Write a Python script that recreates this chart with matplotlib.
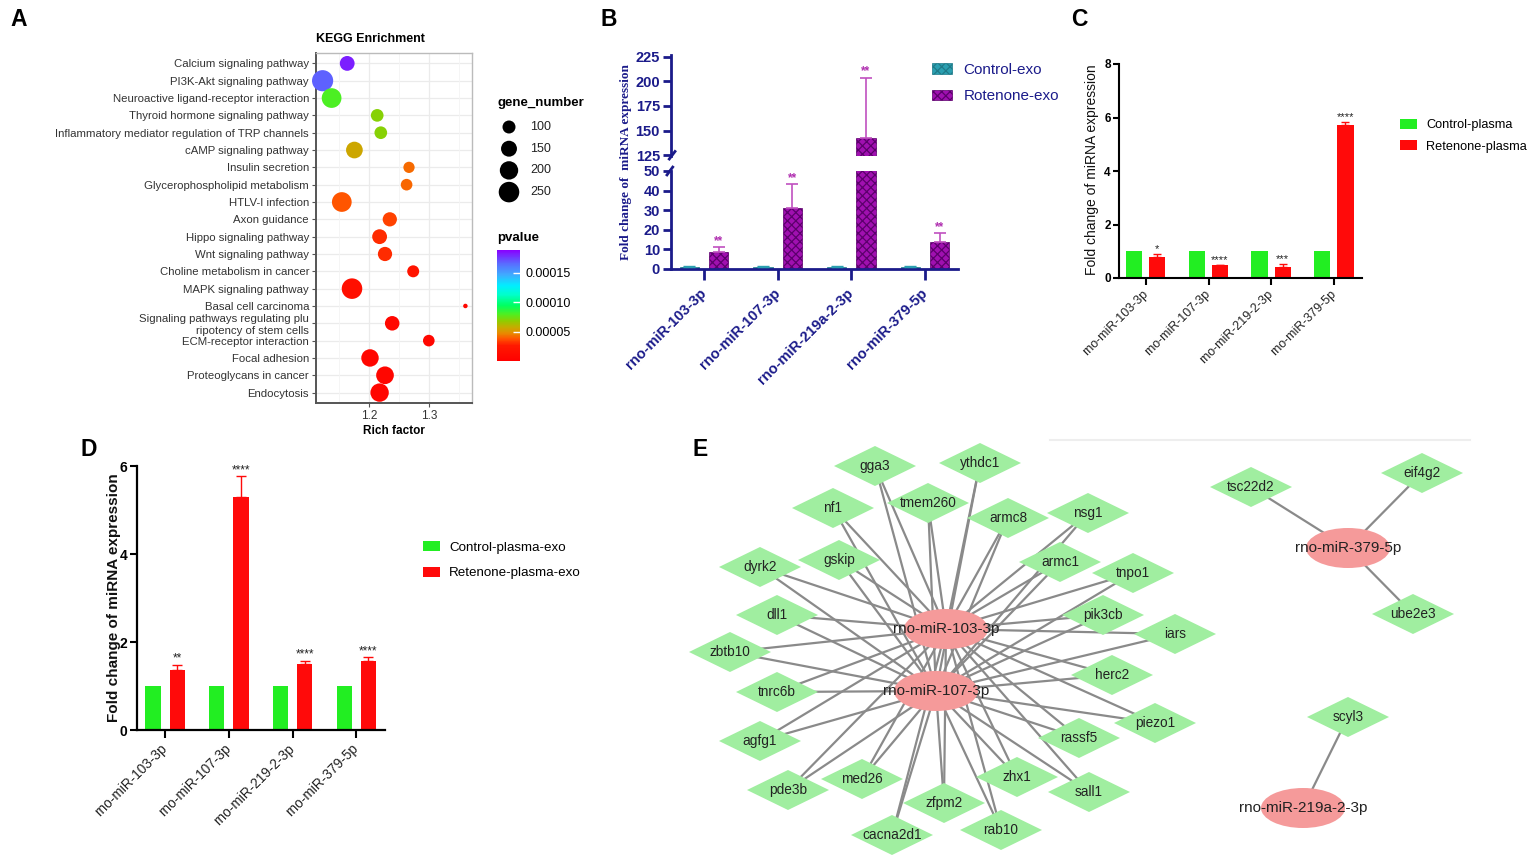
import numpy as np
import matplotlib
matplotlib.use('Agg')
import matplotlib.pyplot as plt
from matplotlib.colors import LinearSegmentedColormap, Normalize
from matplotlib.patches import Ellipse, Polygon, Patch

plt.rcParams['font.family'] = ['Liberation Sans', 'DejaVu Sans']
plt.rcParams['hatch.linewidth'] = 0.9

W, H = 1535, 860
fig = plt.figure(figsize=(W / 100, H / 100), dpi=100)


def px_axes(x0, y0, x1, y1, **kw):
    return fig.add_axes([x0 / W, 1 - y1 / H, (x1 - x0) / W, (y1 - y0) / H], **kw)


# ======================= DATA =======================
# Panel A: KEGG enrichment
kegg_terms = ["Calcium signaling pathway", "PI3K-Akt signaling pathway",
              "Neuroactive ligand-receptor interaction", "Thyroid hormone signaling pathway",
              "Inflammatory mediator regulation of TRP channels", "cAMP signaling pathway",
              "Insulin secretion", "Glycerophospholipid metabolism", "HTLV-I infection",
              "Axon guidance", "Hippo signaling pathway", "Wnt signaling pathway",
              "Choline metabolism in cancer", "MAPK signaling pathway", "Basal cell carcinoma",
              "Signaling pathways regulating plu\nripotency of stem cells",
              "ECM-receptor interaction", "Focal adhesion", "Proteoglycans in cancer",
              "Endocytosis"]
kegg_rich = [1.164, 1.123, 1.138, 1.214, 1.220, 1.176, 1.267, 1.263, 1.155, 1.235,
             1.218, 1.227, 1.274, 1.172, 1.361, 1.239, 1.300, 1.202, 1.227, 1.218]
kegg_genes = [130, 265, 230, 95, 95, 165, 75, 80, 230, 120,
              130, 120, 85, 250, 12, 125, 80, 180, 185, 200]
kegg_pvalue = [1.82e-4, 1.68e-4, 8.0e-5, 7.0e-5, 7.0e-5, 5.6e-5, 4.2e-5, 4.1e-5, 3.8e-5, 3.4e-5,
               3.0e-5, 3.0e-5, 2.0e-5, 1.5e-5, 8e-6, 8e-6, 8e-6, 6e-6, 6e-6, 6e-6]
size_keys = [100, 150, 200, 250]
pvalue_ticks = [5e-5, 1e-4, 1.5e-4]
pvalue_ticklabels = ["0.00005", "0.00010", "0.00015"]

# Panel B
mirs_B = ["rno-miR-103-3p", "rno-miR-107-3p", "rno-miR-219a-2-3p", "rno-miR-379-5p"]
ctrl_exo = [1.0, 1.0, 1.0, 1.0]
ctrl_exo_err = [0.4, 0.5, 0.7, 0.3]
rot_exo = [8.7, 31.0, 142.0, 14.0]
rot_exo_err = [2.3, 12.4, 62.0, 4.3]
stars_B = ["**", "**", "**", "**"]

# Panel C
mirs_C = ["rno-miR-103-3p", "rno-miR-107-3p", "rno-miR-219-2-3p", "rno-miR-379-5p"]
ctrl_plasma = [1.0, 1.0, 1.0, 1.0]
rot_plasma = [0.77, 0.47, 0.42, 5.72]
rot_plasma_err = [0.13, 0.02, 0.09, 0.10]
stars_C = ["*", "****", "***", "****"]

# Panel D
mirs_D = ["rno-miR-103-3p", "rno-miR-107-3p", "rno-miR-219-2-3p", "rno-miR-379-5p"]
ctrl_pexo = [1.0, 1.0, 1.0, 1.0]
rot_pexo = [1.36, 5.30, 1.50, 1.575]
rot_pexo_err = [0.12, 0.47, 0.07, 0.075]
stars_D = ["**", "****", "****", "****"]

# Panel E: network (layout positions in figure pixels)
hub_names = ["rno-miR-103-3p", "rno-miR-107-3p", "rno-miR-379-5p", "rno-miR-219a-2-3p"]
hub_x = [946, 936, 1348, 1303]
hub_y = [629, 691, 548, 808]
target_names = ["gga3", "ythdc1", "nf1", "tmem260", "armc8", "nsg1", "gskip", "dyrk2",
                "armc1", "tnpo1", "dll1", "pik3cb", "iars", "zbtb10", "herc2", "tnrc6b",
                "piezo1", "agfg1", "rassf5", "med26", "zhx1", "pde3b", "sall1", "zfpm2",
                "cacna2d1", "rab10", "tsc22d2", "eif4g2", "ube2e3", "scyl3"]
target_x = [875, 980, 833, 928, 1008, 1088, 839, 760, 1060, 1133, 777, 1103, 1175, 730,
            1112, 777, 1155, 760, 1079, 862, 1017, 788, 1089, 944, 892, 1001,
            1251, 1422, 1413, 1348]
target_y = [466, 463, 508, 503, 518, 513, 560, 567, 562, 573, 615, 615, 634, 652,
            675, 692, 723, 741, 738, 779, 777, 790, 792, 803, 835, 830,
            487, 473, 614, 717]
shared_targets = target_names[:26]
edges = ([(t, "rno-miR-103-3p") for t in shared_targets]
         + [(t, "rno-miR-107-3p") for t in shared_targets]
         + [("tsc22d2", "rno-miR-379-5p"), ("eif4g2", "rno-miR-379-5p"),
            ("ube2e3", "rno-miR-379-5p"), ("scyl3", "rno-miR-219a-2-3p")])

# ======================= PANEL A =======================
cmap = LinearSegmentedColormap.from_list("pv", [
    (0.0, "#ff0000"), (0.14, "#ff1a00"), (0.2, "#ff5500"), (0.25, "#e88a00"),
    (0.3, "#c8aa00"), (0.36, "#90cc00"), (0.42, "#50ee20"), (0.5, "#00ff60"),
    (0.6, "#00ffcc"), (0.68, "#00eeff"), (0.78, "#40aaff"), (0.88, "#5a6aff"),
    (1.0, "#8a00ff")])
norm = Normalize(vmin=0, vmax=1.89e-4)


def gene_size(n):
    return np.asarray(n, dtype=float) * 0.876


axA = px_axes(316, 53, 472, 403)
yA = np.arange(len(kegg_terms))
axA.set_axisbelow(True)
for yy in yA:
    axA.axhline(yy, color="#ebebeb", lw=0.9, zorder=0)
for xx in [1.15, 1.25, 1.35]:
    axA.axvline(xx, color="#f4f4f4", lw=0.6, zorder=0)
for xx in [1.2, 1.3]:
    axA.axvline(xx, color="#ebebeb", lw=0.9, zorder=0)
sc = axA.scatter(kegg_rich, yA, s=gene_size(kegg_genes), c=kegg_pvalue, cmap=cmap,
                 norm=norm, edgecolors="none", zorder=3, clip_on=False)
axA.set_xlim(1.112, 1.372)
axA.set_ylim(len(kegg_terms) - 0.4, -0.6)
axA.set_yticks(yA)
axA.set_yticklabels(kegg_terms, fontsize=8.2, color="#333333")
axA.set_xticks([1.2, 1.3])
axA.set_xticklabels(["1.2", "1.3"], fontsize=8.5, color="#333333")
axA.tick_params(axis="both", length=3, width=0.8, color="#555555", pad=2)
axA.set_xlabel("Rich factor", fontsize=8.5, fontweight="bold", labelpad=2)
axA.set_title("KEGG Enrichment", fontsize=9, fontweight="bold", loc="left", pad=8)
for s in ["left", "bottom"]:
    axA.spines[s].set_color("#555555")
    axA.spines[s].set_linewidth(1.4)
for s in ["top", "right"]:
    axA.spines[s].set_color("#bbbbbb")
    axA.spines[s].set_linewidth(1.0)

# colorbar
caxA = px_axes(497, 250, 520, 361)
cb = fig.colorbar(sc, cax=caxA, ticks=pvalue_ticks)
cb.set_ticklabels(pvalue_ticklabels)
cb.outline.set_visible(False)
caxA.tick_params(direction="in", color="white", length=5, width=1, labelsize=9, pad=4)
fig.text(497 / W, 1 - 238 / H, "pvalue", fontsize=9.5, fontweight="bold", va="center")

# ======================= PANEL B =======================
navy = "#1b1b8a"
xg = np.arange(4)
axB_top = px_axes(671, 55, 958, 156)
axB_bot = px_axes(671, 171, 958, 269)
zeros = np.zeros(4)
for a in (axB_top, axB_bot):
    a.bar(xg - 0.2, ctrl_exo, 0.26, color="#2a9fb0", edgecolor="#1f7a88",
          hatch="xxxx", linewidth=0.5, zorder=2)
    a.bar(xg + 0.2, rot_exo, 0.26, color="#a010b0", edgecolor="#5c006c",
          hatch="xxxx", linewidth=0.5, zorder=2)
    a.errorbar(xg + 0.2, rot_exo, yerr=[zeros, rot_exo_err], fmt="none",
               ecolor="#c050c0", elinewidth=1.2, capsize=4, capthick=1.2, zorder=3)
    a.errorbar(xg - 0.2, ctrl_exo, yerr=[zeros, ctrl_exo_err], fmt="none",
               ecolor="#2a9fb0", elinewidth=1.0, capsize=4, capthick=1.0, zorder=3)
    a.set_xlim(-0.45, 3.45)
    a.spines["top"].set_visible(False)
    a.spines["right"].set_visible(False)
    a.spines["left"].set_color(navy)
    a.spines["left"].set_linewidth(2)
    a.tick_params(axis="y", colors=navy, width=2, length=6, labelsize=10.5, pad=2)
    a.patch.set_alpha(0)

axB_top.set_ylim(124.0, 227.0)
axB_top.set_yticks([125, 150, 175, 200, 225])
axB_top.spines["bottom"].set_visible(False)
axB_top.set_xticks([])
axB_bot.set_ylim(0, 50)
axB_bot.set_yticks([0, 10, 20, 30, 40, 50])
axB_bot.spines["bottom"].set_color(navy)
axB_bot.spines["bottom"].set_linewidth(2)
axB_bot.set_xticks(xg)
axB_bot.set_xticklabels(mirs_B, rotation=45, ha="right", va="center",
                        rotation_mode="anchor", fontsize=10.5, fontweight="bold", color=navy)
axB_bot.tick_params(axis="x", colors=navy, width=2, length=8, pad=8)
for a in (axB_top, axB_bot):
    for lbl in a.get_yticklabels():
        lbl.set_fontweight("bold")
for i in range(4):
    ytxt = rot_exo[i] + rot_exo_err[i]
    a = axB_top if ytxt > 50 else axB_bot
    a.text(xg[i] + 0.2, ytxt, stars_B[i], ha="center", va="bottom",
           color="#b030b0", fontsize=8.5, fontweight="bold")
# axis-break marks
axB_top.plot([-0.006, 0.014], [-0.03, 0.045], transform=axB_top.transAxes,
             color=navy, lw=2, clip_on=False)
axB_bot.plot([-0.014, 0.006], [0.96, 1.04], transform=axB_bot.transAxes,
             color=navy, lw=2, clip_on=False)
fig.text(626 / W, 1 - 162 / H, "Fold change of  miRNA expression", rotation=90,
         ha="center", va="center", family=["Liberation Serif", "DejaVu Serif"],
         fontweight="bold", color=navy, fontsize=9.5)
fig.legend(handles=[Patch(facecolor="#2a9fb0", edgecolor="#1f7a88", hatch="xxxx", lw=0.5),
                    Patch(facecolor="#a010b0", edgecolor="#5c006c", hatch="xxxx", lw=0.5)],
           labels=["Control-exo", "Rotenone-exo"], loc="upper left",
           bbox_to_anchor=(932 / W, 1 - 63 / H), frameon=False, fontsize=11,
           labelcolor=navy, handlelength=1.3, handleheight=0.7, labelspacing=0.8,
           handletextpad=0.75, borderpad=0, borderaxespad=0)

# ======================= PANEL C =======================
axC = px_axes(1119, 64, 1362, 278)
axC.bar(xg - 0.19, ctrl_plasma, 0.26, color="#22ee22", zorder=2)
axC.bar(xg + 0.18, rot_plasma, 0.26, color="#ff0a0a", zorder=2)
axC.errorbar(xg + 0.18, rot_plasma, yerr=[zeros, rot_plasma_err], fmt="none",
             ecolor="#ff0a0a", elinewidth=1.0, capsize=3, capthick=1.0, zorder=3)
for i in range(4):
    axC.text(xg[i] + 0.18, rot_plasma[i] + rot_plasma_err[i], stars_C[i], ha="center",
             va="bottom", fontsize=8, color="#222222")
axC.set_xlim(-0.43, 3.445)
axC.set_ylim(0, 8)
axC.set_yticks([0, 2, 4, 6, 8])
axC.set_xticks(xg)
axC.set_xticklabels(mirs_C, rotation=45, ha="right", va="center", rotation_mode="anchor",
                    fontsize=9, color="#222222")
for lbl in axC.get_yticklabels():
    lbl.set_fontweight("bold")
axC.tick_params(axis="y", labelsize=8.5, width=1.5, length=4, pad=2)
axC.tick_params(axis="x", width=1.5, length=5, pad=5)
for s in ["top", "right"]:
    axC.spines[s].set_visible(False)
for s in ["left", "bottom"]:
    axC.spines[s].set_linewidth(1.5)
fig.text(1092 / W, 1 - 170 / H, "Fold change of miRNA expression", rotation=90,
         ha="center", va="center", fontsize=10, color="#111111")
fig.legend(handles=[Patch(facecolor="#22ee22"), Patch(facecolor="#ff0a0a")],
           labels=["Control-plasma", "Retenone-plasma"], loc="upper left",
           bbox_to_anchor=(1400 / W, 1 - 119 / H), frameon=False, fontsize=9.2,
           handlelength=1.33, handleheight=0.78, labelspacing=0.72,
           handletextpad=0.7, borderpad=0, borderaxespad=0)

# ======================= PANEL D =======================
axD = px_axes(137, 466, 385, 730)
axD.bar(xg - 0.19, ctrl_pexo, 0.24, color="#22ee22", zorder=2)
axD.bar(xg + 0.19, rot_pexo, 0.24, color="#ff0a0a", zorder=2)
axD.errorbar(xg + 0.19, rot_pexo, yerr=[zeros, rot_pexo_err], fmt="none",
             ecolor="#ff0a0a", elinewidth=1.0, capsize=3.5, capthick=1.0, zorder=3)
for i in range(4):
    axD.text(xg[i] + 0.19, rot_pexo[i] + rot_pexo_err[i], stars_D[i], ha="center",
             va="bottom", fontsize=8.5, color="#222222")
axD.set_xlim(-0.44, 3.45)
axD.set_ylim(0, 6)
axD.set_yticks([0, 2, 4, 6])
axD.set_xticks(xg)
axD.set_xticklabels(mirs_D, rotation=45, ha="right", va="center", rotation_mode="anchor",
                    fontsize=9.8, color="#222222")
for lbl in axD.get_yticklabels():
    lbl.set_fontweight("bold")
axD.tick_params(axis="y", labelsize=10, width=1.5, length=5, pad=2)
axD.tick_params(axis="x", width=1.5, length=6, pad=6)
for s in ["top", "right"]:
    axD.spines[s].set_visible(False)
for s in ["left", "bottom"]:
    axD.spines[s].set_linewidth(1.6)
fig.text(114 / W, 1 - 598 / H, "Fold change of miRNA expression", rotation=90,
         ha="center", va="center", fontsize=11, fontweight="bold", color="#111111")
fig.legend(handles=[Patch(facecolor="#22ee22"), Patch(facecolor="#ff0a0a")],
           labels=["Control-plasma-exo", "Retenone-plasma-exo"], loc="upper left",
           bbox_to_anchor=(423 / W, 1 - 541 / H), frameon=False, fontsize=9.6,
           handlelength=1.28, handleheight=0.75, labelspacing=1.0,
           handletextpad=0.68, borderpad=0, borderaxespad=0)

# ======================= OVERLAY (legend A, network E, letters) =======================
ov = fig.add_axes([0, 0, 1, 1], zorder=5)
ov.set_xlim(0, W)
ov.set_ylim(H, 0)
ov.axis("off")
ov.patch.set_alpha(0)

# size legend for panel A
ov.text(497, 103, "gene_number", fontsize=9.5, fontweight="bold", va="center")
for i, g in enumerate(size_keys):
    yy = 127 + i * 21.7
    ov.scatter([509], [yy], s=gene_size([g]), color="black", edgecolors="none")
    ov.text(530, yy, str(g), fontsize=9, va="center", color="#222222")

# network
pos = {n: (x, y) for n, x, y in zip(target_names, target_x, target_y)}
pos.update({n: (x, y) for n, x, y in zip(hub_names, hub_x, hub_y)})
ov.plot([1050, 1470], [440, 440], color="#eeeeee", lw=1.5, zorder=1)
for a_, b_ in edges:
    (x1, y1), (x2, y2) = pos[a_], pos[b_]
    ov.plot([x1, x2], [y1, y2], color="#8a8a8a", lw=1.6, zorder=2, solid_capstyle="butt")
for n, x, y in zip(target_names, target_x, target_y):
    ov.add_patch(Polygon([(x - 41, y), (x, y - 20), (x + 41, y), (x, y + 20)],
                         closed=True, facecolor="#a0eea0", edgecolor="none", zorder=3))
    ov.text(x, y, n, ha="center", va="center", fontsize=9.8, color="#222222", zorder=5)
for n, x, y in zip(hub_names, hub_x, hub_y):
    ov.add_patch(Ellipse((x, y), 84, 40, facecolor="#f59a9a", edgecolor="none", zorder=4))
    ov.text(x, y, n, ha="center", va="center", fontsize=11, color="#222222", zorder=5)

# panel letters
for letter, lx, ly in [("A", 19, 20), ("B", 609, 20), ("C", 1079, 20), ("D", 89, 450), ("E", 700, 450)]:
    ov.text(lx, ly, letter, fontsize=16.5, fontweight="bold", ha="center", va="center")

fig.savefig("out.png", dpi=100)
